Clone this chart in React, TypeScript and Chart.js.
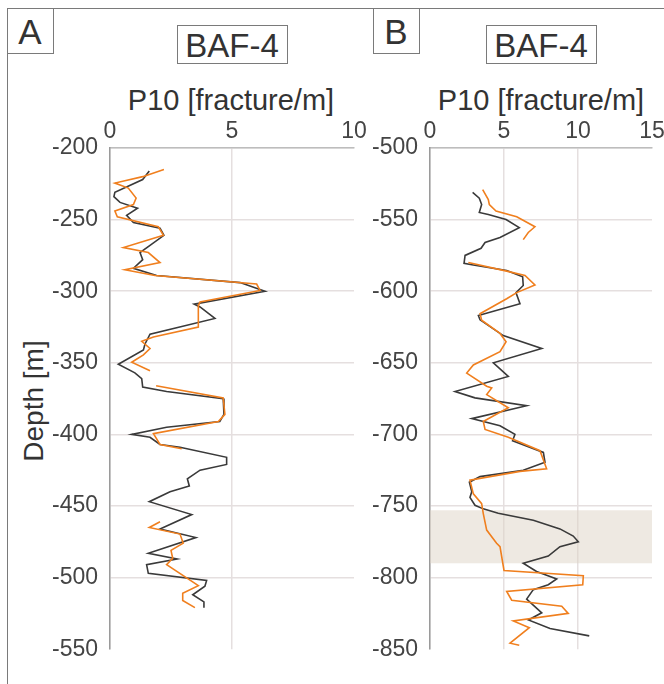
import React, { useEffect, useRef } from "react";
import { Chart, registerables } from "chart.js";

Chart.register(...registerables);

const FONT = "'Liberation Sans', Arial, sans-serif";

// Panel A (BAF-4, depth -200 .. -550 m)
const aBlackDepth = [-216, -222, -231, -234, -238, -242, -247, -252, -256, -261, -268, -273, -278, -284, -289, -294, -300, -309, -311, -319, -330, -337, -341, -351, -357, -361, -367, -370, -375, -386, -391, -395, -400, -402, -407, -409, -416, -421, -425, -431, -436, -440, -447, -456, -466, -472, -483, -487, -491, -497, -502, -506, -512, -517, -521];
const aBlackP10 = [1.61, 1.34, 0.2, 0.16, 0.41, 1.13, 0.68, 0.96, 2.05, 2.21, 1.64, 1.23, 1.34, 0.96, 1.91, 5.33, 6.35, 3.45, 3.69, 4.3, 1.64, 1.43, 1.37, 0.34, 1.02, 1.3, 1.34, 2.32, 4.64, 4.67, 4.5, 2.32, 0.89, 1.64, 2.05, 2.87, 4.78, 4.78, 3.69, 3.17, 3.25, 2.46, 1.61, 3.35, 2.05, 3.52, 1.57, 2.75, 1.5, 1.57, 3.96, 3.89, 3.39, 3.85, 3.85];

const aOrange1Depth = [-215, -220, -224.5, -228, -235, -239.5, -244, -248, -255, -261, -269.5, -273, -280, -285, -289, -295, -299.5, -307.6, -310, -325, -332, -335, -340, -344.5, -349.6, -355.6];
const aOrange1P10 = [2.21, 1.34, 0.2, 0.75, 1.07, 0.96, 0.2, 0.3, 1.98, 2.19, 0.55, 1.57, 2.05, 0.61, 1.84, 6.01, 6.15, 3.69, 3.62, 3.62, 1.78, 1.3, 1.64, 1.37, 0.89, 1.64];
const aOrange2Depth = [-366, -374.5, -386, -391, -399.5, -407, -410];
const aOrange2P10 = [1.89, 4.64, 4.71, 4.44, 1.78, 2.05, 2.94];
const aOrange3Depth = [-461, -465, -469.6, -476, -481, -486.5, -491, -505.6, -511, -516, -521];
const aOrange3P10 = [2.05, 1.61, 2.87, 3.0, 2.5, 2.57, 2.32, 3.62, 2.98, 2.98, 3.48];

// Panel B (BAF-4, depth -500 .. -850 m)
const bBlackDepth = [-531, -535, -539.5, -545, -546.5, -550, -555.6, -562.5, -566, -570, -575, -580.5, -581.7, -585.6, -590, -596, -601, -608.7, -617, -620, -631, -640, -650, -659.5, -670, -674.5, -680, -689, -694, -700, -704.5, -712.6, -719.5, -725, -729.5, -733.4, -740, -744, -749.5, -752, -755, -760, -766, -771, -775, -778.4, -785, -790, -795.7, -801, -805, -808.4, -815, -824.6, -829.6, -835.6, -840.7];
const bBlackP10 = [2.88, 3.33, 3.49, 3.33, 3.94, 5.14, 6.03, 4.73, 3.72, 3.45, 2.37, 2.3, 2.93, 5.18, 6.26, 6.3, 5.81, 6.08, 3.27, 3.38, 4.95, 7.55, 4.28, 5.29, 1.69, 3.04, 6.53, 2.82, 4.73, 5.74, 5.58, 7.66, 7.77, 6.3, 3.38, 2.66, 2.82, 2.7, 3.04, 3.6, 4.61, 6.98, 8.78, 9.68, 10.02, 8.78, 7.99, 6.3, 7.2, 8.56, 7.99, 6.98, 6.53, 7.55, 6.65, 8.11, 10.76];

const bOrange1Depth = [-529, -536, -539.5, -544, -548, -555, -559, -564];
const bOrange1P10 = [3.56, 3.94, 4.01, 4.46, 5.86, 7.09, 6.64, 6.3];
const bOrange2Depth = [-580, -586, -589, -595.6, -601, -605.3, -615.7, -620.3, -629.5, -635.3, -642.2, -651.5, -657.2, -666.4, -667.6, -672.2, -681.4, -691, -696.5, -702, -711.4, -724, -725.8, -732, -741.5, -748.4, -755.3, -766.8, -776, -778.4, -795, -798.7, -805, -809.6, -815.8, -820, -825, -830.3, -835, -845.8, -847.2];
const bOrange2P10 = [2.59, 5.18, 6.42, 7.09, 5.86, 5.18, 3.38, 3.49, 4.73, 5.14, 4.73, 2.93, 2.48, 3.83, 4.17, 3.83, 5.29, 3.6, 3.72, 5.29, 7.43, 7.88, 6.08, 2.7, 2.93, 3.49, 3.6, 3.83, 4.5, 4.73, 5.0, 10.36, 10.32, 5.18, 5.52, 8.9, 9.34, 5.63, 6.71, 5.41, 6.03];

// Shaded interval in panel B
const bandDepthTop = -753;
const bandDepthBottom = -790;
const bandP10From = 0;
const bandP10To = 15;

const BLACK = "#3a3a3a";
const ORANGE = "#f07f1e";
const GRID = "#e5dfdf";

function pts(depths: number[], vals: number[]) {
  return depths.map((d, i) => ({ x: vals[i], y: d }));
}

function ds(depths: number[], vals: number[], color: string) {
  return {
    data: pts(depths, vals),
    borderColor: color,
    backgroundColor: color,
    borderWidth: 1.6,
    pointRadius: 0,
    showLine: true,
    tension: 0,
    fill: false,
  };
}

function scales(xMax: number, yMin: number, yMax: number) {
  return {
    x: {
      type: "linear",
      position: "top",
      min: 0,
      max: xMax,
      ticks: { stepSize: 5, color: "#444", font: { family: FONT, size: 23 }, padding: 3, maxRotation: 0 },
      grid: {
        color: (c: any) => (c.tick && c.tick.value === xMax ? "rgba(0,0,0,0)" : GRID),
        lineWidth: 1.5,
        drawTicks: false,
      },
      border: { color: "#bdbdbd", width: 1.5 },
      afterFit: (s: any) => {
        s.height = 38;
      },
    },
    y: {
      type: "linear",
      min: yMin,
      max: yMax,
      ticks: { stepSize: 50, color: "#444", font: { family: FONT, size: 23 }, padding: 12 },
      grid: {
        color: (c: any) => (c.tick && c.tick.value === yMin ? "rgba(0,0,0,0)" : GRID),
        lineWidth: 1.5,
        drawTicks: false,
      },
      border: { color: "#9a9a9a", width: 1.5 },
      afterFit: (s: any) => {
        s.width = 70;
      },
    },
  };
}

const bandPlugin = {
  id: "band",
  beforeDatasetsDraw(chart: any, _a: any, opts: any) {
    if (!opts || !opts.show) return;
    const { ctx, scales } = chart;
    const x1 = scales.x.getPixelForValue(bandP10From);
    const x2 = scales.x.getPixelForValue(bandP10To);
    const y1 = scales.y.getPixelForValue(bandDepthTop);
    const y2 = scales.y.getPixelForValue(bandDepthBottom);
    ctx.save();
    ctx.fillStyle = "rgba(222,212,198,0.5)";
    ctx.fillRect(x1, y1, x2 - x1, y2 - y1);
    ctx.restore();
  },
};

function Panel(props: { left: number; width: number; datasets: any[]; xMax: number; yMin: number; yMax: number; band: boolean; padRight: number }) {
  const ref = useRef<HTMLCanvasElement | null>(null);
  useEffect(() => {
    if (!ref.current) return;
    const chart = new Chart(ref.current, {
      type: "scatter",
      data: { datasets: props.datasets },
      options: {
        animation: false,
        responsive: false,
        maintainAspectRatio: false,
        layout: { padding: { left: 0, top: 0, right: props.padRight, bottom: 22 } },
        plugins: {
          legend: { display: false },
          tooltip: { enabled: false },
          band: { show: props.band },
        } as any,
        scales: scales(props.xMax, props.yMin, props.yMax) as any,
      },
      plugins: [bandPlugin],
    });
    return () => chart.destroy();
  }, []);
  return (
    <canvas
      ref={ref}
      width={props.width}
      height={565}
      style={{ position: "absolute", left: props.left, top: 110, width: props.width, height: 565 }}
    />
  );
}

const textBase: React.CSSProperties = {
  position: "absolute",
  fontFamily: FONT,
  color: "#333",
  whiteSpace: "nowrap",
  lineHeight: 1,
};

export default function App() {
  const aSets = [
    ds(aOrange1Depth, aOrange1P10, ORANGE),
    ds(aOrange2Depth, aOrange2P10, ORANGE),
    ds(aOrange3Depth, aOrange3P10, ORANGE),
    ds(aBlackDepth, aBlackP10, BLACK),
  ];
  const bSets = [
    ds(bOrange1Depth, bOrange1P10, ORANGE),
    ds(bOrange2Depth, bOrange2P10, ORANGE),
    ds(bBlackDepth, bBlackP10, BLACK),
  ];
  return (
    <div style={{ position: "fixed", left: 0, top: 0, width: 664, height: 684, background: "#fff", overflow: "hidden" }}>
      <div style={{ position: "absolute", left: 7, top: 8, width: 700, height: 700, borderTop: "1px solid #7a7a7a", borderLeft: "1px solid #7a7a7a" }} />
      <div style={{ position: "absolute", left: 7, top: 8, width: 45, height: 44, border: "1px solid #7a7a7a" }} />
      <div style={{ ...textBase, left: 30, top: 31, fontSize: 35, transform: "translate(-50%,-50%)" }}>A</div>
      <div style={{ position: "absolute", left: 373, top: 8, width: 45, height: 44, border: "1px solid #7a7a7a" }} />
      <div style={{ ...textBase, left: 396, top: 31, fontSize: 35, transform: "translate(-50%,-50%)" }}>B</div>

      <div style={{ position: "absolute", left: 177, top: 25, width: 109, height: 37, border: "1px solid #7a7a7a" }} />
      <div style={{ ...textBase, left: 232, top: 45, fontSize: 33, transform: "translate(-50%,-50%)" }}>BAF-4</div>
      <div style={{ position: "absolute", left: 486, top: 25, width: 109, height: 37, border: "1px solid #7a7a7a" }} />
      <div style={{ ...textBase, left: 541, top: 45, fontSize: 33, transform: "translate(-50%,-50%)" }}>BAF-4</div>

      <div style={{ ...textBase, left: 231, top: 100, fontSize: 29, transform: "translate(-50%,-50%)" }}>P10 [fracture/m]</div>
      <div style={{ ...textBase, left: 541, top: 100, fontSize: 29, transform: "translate(-50%,-50%)" }}>P10 [fracture/m]</div>

      <div style={{ ...textBase, left: 34, top: 401, fontSize: 28, transform: "translate(-50%,-50%) rotate(-90deg)" }}>Depth [m]</div>

      <Panel left={40} width={330} datasets={aSets} xMax={10} yMin={-550} yMax={-200} band={false} padRight={16} />
      <Panel left={360} width={310} datasets={bSets} xMax={15} yMin={-850} yMax={-500} band={true} padRight={18} />
    </div>
  );
}
